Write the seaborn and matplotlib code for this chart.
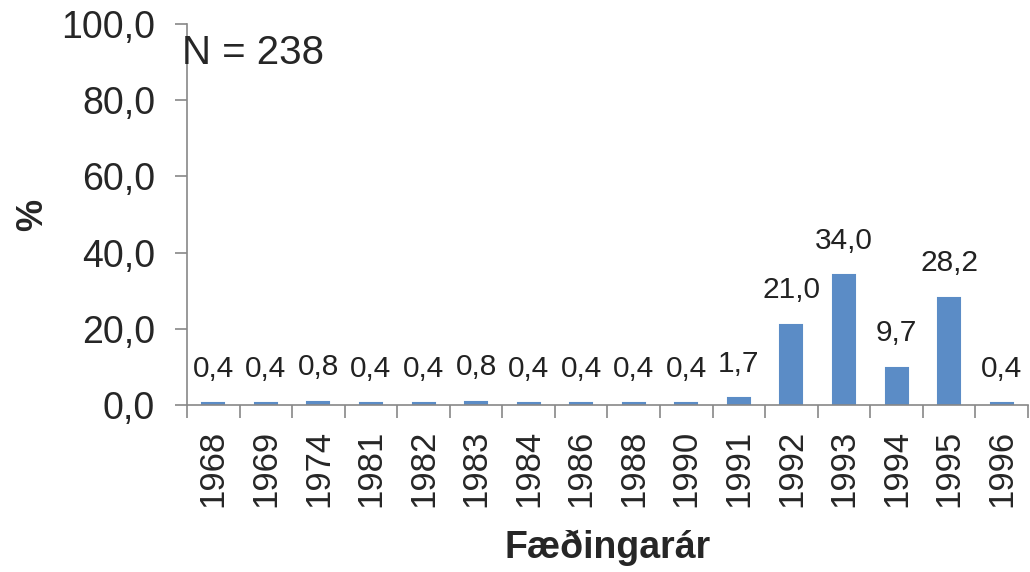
import matplotlib
matplotlib.use("Agg")
import matplotlib.pyplot as plt
import seaborn as sns
import pandas as pd
import numpy as np

years = ["1968", "1969", "1974", "1981", "1982", "1983", "1984", "1986",
         "1988", "1990", "1991", "1992", "1993", "1994", "1995", "1996"]
percent = [0.4, 0.4, 0.8, 0.4, 0.4, 0.8, 0.4, 0.4, 0.4, 0.4, 1.7, 21.0, 34.0, 9.7, 28.2, 0.4]
y_ticks = [0, 20, 40, 60, 80, 100]

df = pd.DataFrame({"year": years, "pct": percent})

sns.set_style("white")
plt.rcParams['font.family'] = ['Liberation Sans', 'DejaVu Sans']

fig = plt.figure(figsize=(10.3, 5.72), dpi=100)
ax = fig.add_axes([0.1816, 0.292, 0.998 - 0.1816, 0.958 - 0.292])

bar_color = "#5B8CC6"
sns.barplot(data=df, x="year", y="pct", order=years, color=bar_color,
            saturation=1, width=0.42, edgecolor=bar_color, linewidth=1.5, ax=ax)

labels = [f"{v:.1f}".replace(".", ",") for v in percent]
ax.bar_label(ax.containers[0], labels=labels, padding=15, fontsize=21.5, color="#222222")

ax.set_ylim(0, 100)
ax.set_xlim(-0.5, len(years) - 0.5)
ax.set_yticks(y_ticks)
ax.set_yticklabels([f"{t:.1f}".replace(".", ",") for t in y_ticks], fontsize=27)
ax.set_xticks(range(len(years)))
ax.set_xticklabels(years, rotation=90, fontsize=25)
ax.set_xticks(np.arange(-0.5, len(years), 1), minor=True)
ax.tick_params(axis="x", which="major", length=0, pad=18)
ax.tick_params(axis="x", which="minor", length=9, width=1.2, color="#888888", direction="out", bottom=True)
ax.tick_params(axis="y", length=9, width=1.2, color="#888888", direction="out", left=True, pad=14)

for side in ["top", "right"]:
    ax.spines[side].set_visible(False)
for side in ["left", "bottom"]:
    ax.spines[side].set_color("#888888")
    ax.spines[side].set_linewidth(1.2)

ax.set_xlabel("Fæðingarár", fontsize=27, fontweight="bold", labelpad=16)
ax.set_ylabel("%", fontsize=26, fontweight="bold", labelpad=8)

ax.text(-0.006, 0.975, "N = 238", transform=ax.transAxes, fontsize=29, va="top", ha="left")

fig.savefig("out.png", dpi=100)
